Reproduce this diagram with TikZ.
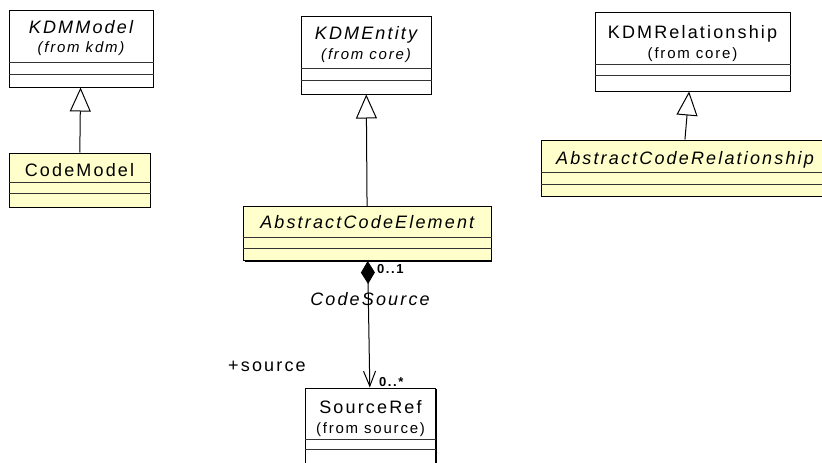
\documentclass[tikz,border=0pt]{standalone}
\usepackage{xcolor}
\usepackage{fontspec}
\usepackage{tikz}
\usetikzlibrary{positioning, shapes, arrows.meta, shadows}

\newfontfamily\umlfont[LetterSpace=12]{Liberation Sans}
\definecolor{classyellow}{RGB}{255,255,204}

\begin{document}
\begin{tikzpicture}[x=1pt, y=-1pt]
			\useasboundingbox (0,0) rectangle (822,463);
			\clip (0,0) rectangle (822,463);
			\tikzstyle{umlclass}=[draw=black, line width=1, inner sep=0, general shadow={fill=black, shadow xshift=1pt, shadow yshift=-1pt}]
			\tikzstyle{compline}=[draw=black!80, line width=0.9]
			\tikzstyle{classname}=[anchor=base, inner sep=0, font=\umlfont\fontsize{18}{20}\selectfont]
			\tikzstyle{classnameit}=[anchor=base, inner sep=0, font=\umlfont\fontsize{18}{20}\selectfont\itshape]
			\tikzstyle{fromname}=[anchor=base, inner sep=0, font=\umlfont\fontsize{15}{17}\selectfont]
			\tikzstyle{fromnameit}=[anchor=base, inner sep=0, font=\umlfont\fontsize{15}{17}\selectfont\itshape]
			\tikzstyle{mult}=[anchor=base west, inner sep=0, font=\umlfont\fontsize{13}{14}\selectfont\bfseries]
			\tikzstyle{generalization}=[line width=1, -{Triangle[open, length=24pt, width=21pt]}]
			\tikzstyle{composition}=[line width=1, {Diamond[length=23pt, width=14pt]}-{Straight Barb[length=15pt, width=12pt]}]
			
			%% class boxes
			\node (kdmmodel) at (81,48.5) [umlclass, fill=white, minimum width=144, minimum height=77] {};
			\node (codemodel) at (79.5,180) [umlclass, fill=classyellow, minimum width=141, minimum height=54] {};
			\node (kdmentity) at (366,55) [umlclass, fill=white, minimum width=130, minimum height=78] {};
			\node (ace) at (367.25,233.5) [umlclass, fill=classyellow, minimum width=247.5, minimum height=54] {};
			\node (kdmrel) at (692.5,51.5) [umlclass, fill=white, minimum width=195, minimum height=79] {};
			\node (acr) at (682.5,168) [umlclass, fill=classyellow, minimum width=283, minimum height=56] {};
			\node (sourceref) at (370.5,429) [umlclass, fill=white, minimum width=130, minimum height=82] {};
			
			%% compartments
			\draw [compline] (kdmmodel.west |- 0,62) -- (kdmmodel.east |- 0,62);
			\draw [compline] (kdmmodel.west |- 0,74) -- (kdmmodel.east |- 0,74);
			\draw [compline] (codemodel.west |- 0,182) -- (codemodel.east |- 0,182);
			\draw [compline] (codemodel.west |- 0,193) -- (codemodel.east |- 0,193);
			\draw [compline] (kdmentity.west |- 0,68) -- (kdmentity.east |- 0,68);
			\draw [compline] (kdmentity.west |- 0,80) -- (kdmentity.east |- 0,80);
			\draw [compline] (ace.west |- 0,237) -- (ace.east |- 0,237);
			\draw [compline] (ace.west |- 0,248) -- (ace.east |- 0,248);
			\draw [compline] (kdmrel.west |- 0,64) -- (kdmrel.east |- 0,64);
			\draw [compline] (kdmrel.west |- 0,75) -- (kdmrel.east |- 0,75);
			\draw [compline] (acr.west |- 0,172) -- (acr.east |- 0,172);
			\draw [compline] (acr.west |- 0,184) -- (acr.east |- 0,184);
			\draw [compline] (sourceref.west |- 0,439) -- (sourceref.east |- 0,439);
			\draw [compline] (sourceref.west |- 0,449) -- (sourceref.east |- 0,449);
			
			%% names
			\node (kdmmodelname) at (81,33) [classnameit] {KDMModel};
			\node (kdmmodelfrom) at (81,52) [fromnameit] {(from kdm)};
			\node (codemodelname) at (79.5,176) [classname] {CodeModel};
			\node (kdmentityname) at (366,39) [classnameit] {KDMEntity};
			\node (kdmentityfrom) at (366,59) [fromnameit] {(from core)};
			\node (acename) at (367.25,228) [classnameit] {AbstractCodeElement};
			\node (kdmrelname) at (692.5,38) [classname] {KDMRelationship};
			\node (kdmrelfrom) at (692.5,58) [fromname] {(from core)};
			\node (acrname) at (685,164) [classnameit] {AbstractCodeRelationship};
			\node (sourcerefname) at (370.5,413) [classname] {SourceRef};
			\node (sourcereffrom) at (370.5,433) [fromname] {(from source)};
			
			%% relations
			\draw [generalization] (codemodel) -- (kdmmodel);
			\draw [generalization] (ace) -- (kdmentity);
			\draw [generalization] (acr) -- (kdmrel);
			\draw [composition] (ace) -- (sourceref);
			
			\node (multace) at (377,273) [mult] {0..1};
			\node (multsource) at (379,386) [mult] {0..*};
			\node (codesource) at (370,305) [classnameit] {CodeSource};
			\node (rolesource) at (228,371) [classname, anchor=base west] {+source};
			\end{tikzpicture}
\end{document}
